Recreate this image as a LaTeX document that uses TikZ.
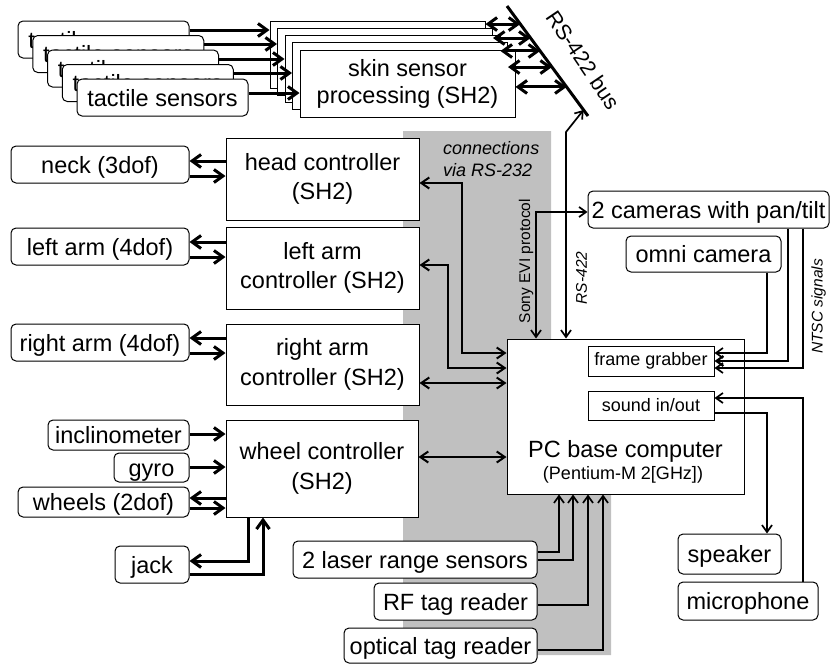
\documentclass[tikz,border=0pt]{standalone}
\usepackage{fontspec}
\setmainfont{Liberation Sans}
\usepackage{tikz}
\usetikzlibrary{arrows.meta, calc}
\definecolor{busgray}{RGB}{192,192,192}

\begin{document}
\begin{tikzpicture}[
    x=1pt, y=-1pt,
    every node/.style={inner sep=0pt},
    boxsize/.style 2 args={minimum width=#1pt, minimum height=#2pt},
    ctrl/.style={draw, line width=1pt, fill=white, align=center, font=\fontsize{23.5}{29.5}\selectfont},
    device/.style={draw, line width=1pt, fill=white, rounded corners=5pt, text height=19.5pt, text depth=2.5pt, font=\fontsize{23.5}{29.5}\selectfont},
    card/.style={draw, line width=1pt, fill=white, font=\fontsize{18}{22}\selectfont},
    note/.style={font=\fontsize{15.5}{18}\selectfont},
    heavy/.style={line width=3pt, -{Straight Barb[length=9pt, width=13pt]}},
    heavyboth/.style={line width=3pt, {Straight Barb[length=9pt, width=13pt]}-{Straight Barb[length=9pt, width=13pt]}},
    link/.style={line width=2pt, {Straight Barb[length=8pt, width=11pt]}-{Straight Barb[length=8pt, width=11pt]}},
    signal/.style={line width=1.7pt, -{Straight Barb[length=7pt, width=10pt]}},
    signalboth/.style={line width=1.7pt, {Straight Barb[length=7pt, width=10pt]}-{Straight Barb[length=7pt, width=10pt]}}
]
    \useasboundingbox (0,0) rectangle (831,664);

    % RS-232 area
    \fill[busgray] (403,131) -- (551,131) -- (551,420) -- (611,420) -- (611,655) -- (403,655) -- cycle;

    % Tactile sensor stack
    \foreach \i in {0,...,4}
        \node[device, boxsize={171}{37}] (tac\i) at ({103.5+14.75*\i}, {39.5+14.5*\i}) {tactile sensors};

    % Skin processing stack
    \foreach \i in {0,...,3}
        \node[ctrl, boxsize={215}{67}] (skin\i) at ({377.5+7.5*\i}, {54.5+7.25*\i}) {};
    \node[ctrl, boxsize={215}{67}, font=\fontsize{23.5}{27}\selectfont] (skin4) at (407.5,83.5) {skin sensor\\processing (SH2)};

    \foreach \i/\y in {0/30, 1/44, 2/59, 3/73, 4/93}
        \draw[heavy] (tac\i.east |- 0,\y) -- (skin\i.west |- 0,\y);

    % RS-422 bus
    \coordinate (busA) at (507,6);
    \coordinate (busB) at (588,116);
    \draw[line width=3pt] (busA) -- (busB);
    \node[font=\fontsize{21.5}{24}\selectfont, rotate=-56] (buslabel) at (583,60) {RS-422 bus};

    \foreach \i/\tpos in {0/0.164, 1/0.291, 2/0.409, 3/0.555, 4/0.736} {
        \coordinate (tap\i) at ($(busA)!\tpos!(busB)$);
        \draw[heavyboth] (skin\i.east |- tap\i) -- (tap\i);
    }

    % Controllers
    \node[ctrl, boxsize={193}{82}] (head) at (322.5,179) {head controller\\(SH2)};
    \node[ctrl, boxsize={193}{82}] (leftc) at (322.5,268) {left arm\\controller (SH2)};
    \node[ctrl, boxsize={193}{81}] (rightc) at (322.5,364.5) {right arm\\controller (SH2)};
    \node[ctrl, boxsize={192}{97}] (wheel) at (322,468.5) {wheel controller\\(SH2)};

    % Actuators and sensors
    \node[device, boxsize={178}{37}] (neck) at (100,164.5) {neck (3dof)};
    \node[device, boxsize={178}{37}] (larm) at (100,246.5) {left arm (4dof)};
    \node[device, boxsize={178}{37}] (rarm) at (100,342.5) {right arm (4dof)};
    \node[device, boxsize={141}{30}] (incl) at (118.5,435) {inclinometer};
    \node[device, boxsize={75}{29}] (gyro) at (151.5,467.5) {gyro};
    \node[device, boxsize={171}{30}] (whl) at (103.5,502) {wheels (2dof)};
    \node[device, boxsize={74}{37}] (jack) at (152,564.5) {jack};

    \foreach \dv/\ct/\ya/\yb in {neck/head/161/176, larm/leftc/242/257, rarm/rightc/338/353, whl/wheel/498/508} {
        \draw[heavy] (\ct.west |- 0,\ya) -- (\dv.east |- 0,\ya);
        \draw[heavy] (\dv.east |- 0,\yb) -- (\ct.west |- 0,\yb);
    }
    \draw[heavy] (incl.east |- 0,434) -- (wheel.west |- 0,434);
    \draw[heavy] (gyro.east |- 0,467) -- (wheel.west |- 0,467);
    \draw[heavy] (wheel.south -| 248,0) |- (jack.east |- 0,561);
    \draw[heavy] (jack.east |- 0,574) -| (wheel.south -| 263,0);

    % Base computer
    \node[ctrl, boxsize={237}{155}] (pc) at (625.5,416.5) {};
    \node[font=\fontsize{23.5}{28}\selectfont, anchor=base] (pcname) at (625.5,457) {PC base computer};
    \node[font=\fontsize{18}{22}\selectfont, anchor=base] (pcspec) at (623,479) {(Pentium-M 2[GHz])};
    \node[card, boxsize={126}{30}] (fg) at (651,361) {frame grabber};
    \node[card, boxsize={126}{29}] (snd) at (651,405.5) {sound in/out};

    \draw[link] (head.east |- 0,183) -| (462,353) -- (pc.west |- 0,353);
    \draw[link] (leftc.east |- 0,265) -| (448,368) -- (pc.west |- 0,368);
    \draw[link] (rightc.east |- 0,383) -- (pc.west |- 0,383);
    \draw[link] (wheel.east |- 0,457) -- (pc.west |- 0,457);
    \node[font=\fontsize{18}{22}\selectfont\itshape, align=left, anchor=west] (rs232) at (443,159) {connections\\via RS-232};

    % Cameras
    \node[device, boxsize={241}{37}] (cam) at (708.5,209.5) {2 cameras with pan/tilt};
    \node[device, boxsize={155}{36}] (omni) at (703.5,254) {omni camera};

    \coordinate (tapPC) at ($(busA)!0.945!(busB)$);
    \draw[signalboth] (pc.north -| 566,0) -- (566,132) -- (tapPC);
    \draw[signalboth] (pc.north -| 536,0) |- (cam.west |- 0,212);
    \node[note, rotate=90] (sony) at (526,261) {Sony EVI protocol};
    \node[note, rotate=90] (rs422) at (581.5,278) {\itshape RS-422};
    \node[note, rotate=90] (ntsc) at (818.5,306.5) {\itshape NTSC signals};

    \draw[signal] (omni.south -| 767,0) |- (fg.east |- 0,353);
    \draw[signal, line width=2.2pt] (cam.south -| 788,0) |- (fg.east |- 0,361);
    \draw[signal] (cam.south -| 803,0) |- (fg.east |- 0,368);

    % Sound
    \node[device, boxsize={103}{40}] (spk) at (729.5,554) {speaker};
    \node[device, boxsize={140}{38}] (mic) at (748,601) {microphone};
    \draw[signal] (snd.east |- 0,413) -| (spk.north -| 767,0);
    \draw[signal] (mic.north -| 803,0) |- (snd.east |- 0,398);

    % Range and tag sensors
    \node[device, boxsize={244}{37}] (laser) at (415,559.5) {2 laser range sensors};
    \node[device, boxsize={163}{37}] (rf) at (455.5,601.5) {RF tag reader};
    \node[device, boxsize={193}{35}] (opt) at (440.5,645.5) {optical tag reader};
    \draw[signal] (laser.east |- 0,552) -| (pc.south -| 559,0);
    \draw[signal] (laser.east |- 0,560) -| (pc.south -| 573,0);
    \draw[signal] (rf.east |- 0,605) -| (pc.south -| 588,0);
    \draw[signal] (opt.east |- 0,650) -| (pc.south -| 603,0);
\end{tikzpicture}
\end{document}
